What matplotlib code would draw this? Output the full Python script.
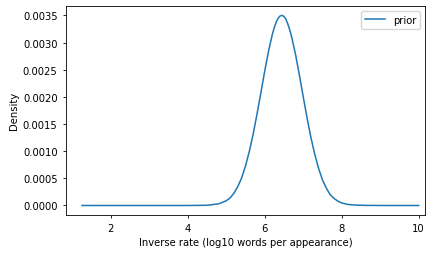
import matplotlib
matplotlib.use("Agg")
import matplotlib.pyplot as plt

# values
inv_rate = [1.25, 2.0, 3.0, 4.0, 4.5, 4.8, 5.0, 5.1, 5.2, 5.3, 5.4, 5.5, 5.6, 5.7,
            5.8, 5.9, 6.0, 6.1, 6.2, 6.25, 6.3, 6.35, 6.4, 6.45, 6.5, 6.55, 6.6,
            6.65, 6.7, 6.8, 6.9, 7.0, 7.1, 7.2, 7.3, 7.4, 7.5, 7.6, 7.7, 7.8, 7.9,
            8.0, 8.15, 8.3, 8.6, 9.0, 10.0]
density = [0.0, 0.0, 0.0, 0.0, 0.000004, 0.00003, 0.000087, 0.00014, 0.000226, 0.00035,
           0.00051, 0.00073, 0.001, 0.00132, 0.00169, 0.00208, 0.00248, 0.00285,
           0.00316, 0.00328, 0.00338, 0.00345, 0.00349, 0.0035, 0.00348, 0.00343,
           0.00334, 0.00323, 0.0031, 0.00278, 0.0024, 0.002, 0.00161, 0.00125,
           0.00094, 0.00068, 0.00047, 0.00032, 0.0002, 0.00013, 0.00008, 0.000046,
           0.00002, 0.00001, 0.000002, 0.0, 0.0]

fig = plt.figure(figsize=(4.42, 2.55), dpi=100)
ax = fig.add_axes([0.149, 0.153, 0.813, 0.82])

ax.plot(inv_rate, density, color="#1f77b4", lw=1.1, label="prior")
ax.set_xlim(0.83, 10.17)
ax.set_ylim(-0.000175, 0.003675)
ax.set_xticks([2, 4, 6, 8, 10])
ax.set_yticks([0.0, 0.0005, 0.001, 0.0015, 0.002, 0.0025, 0.003, 0.0035])
ax.set_yticklabels(["0.0000", "0.0005", "0.0010", "0.0015", "0.0020",
                    "0.0025", "0.0030", "0.0035"])
ax.tick_params(labelsize=7.2, length=2.5, width=0.6)
for s in ax.spines.values():
    s.set_linewidth(0.6)
ax.set_xlabel("Inverse rate (log10 words per appearance)", fontsize=7.2, labelpad=3)
ax.set_ylabel("Density", fontsize=7.2, labelpad=3)
ax.legend(loc="upper right", fontsize=7.2)

fig.savefig("out.png", dpi=100)
